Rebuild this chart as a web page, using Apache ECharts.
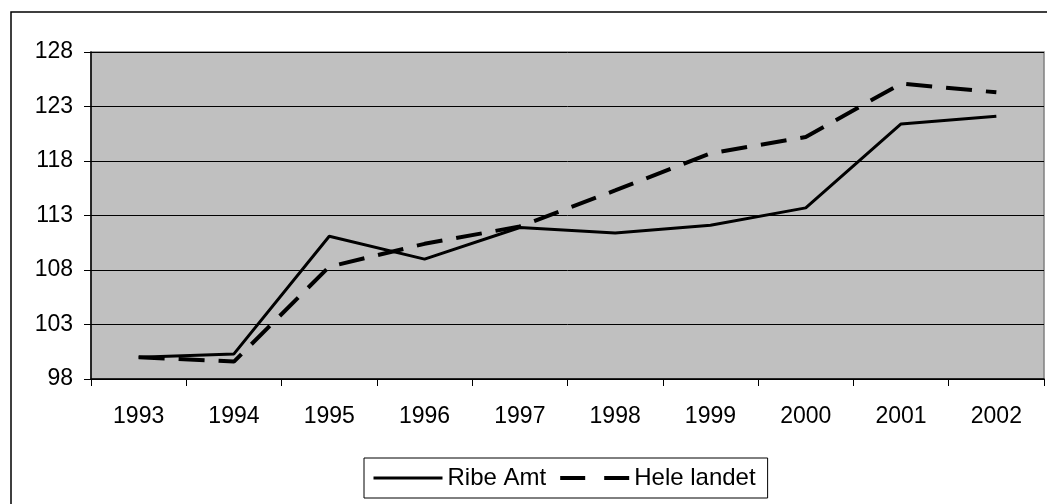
<!DOCTYPE html>
<html>
<head>
<meta charset="utf-8">
<script src="https://cdn.jsdelivr.net/npm/echarts@6/dist/echarts.min.js"></script>
<style>
  html, body { margin: 0; padding: 0; background: #fff; }
  #main { width: 1047px; height: 504px; }
</style>
</head>
<body>
<div id="main"></div>
<script type="text/javascript">
    var years = ['1993', '1994', '1995', '1996', '1997', '1998', '1999', '2000', '2001', '2002'];
    var ribeAmt = [100.0, 100.3, 111.1, 109.0, 111.9, 111.4, 112.1, 113.7, 121.4, 122.1];
    var heleLandet = [100.0, 99.6, 108.3, 110.4, 112.0, 115.3, 118.7, 120.2, 125.1, 124.3];

    var font = 'Liberation Sans, Arial, sans-serif';
    var dash = [26, 14];
    var chart = echarts.init(document.getElementById('main'));

    var option = {
        animation: false,
        backgroundColor: '#fff',
        textStyle: { fontFamily: font, color: '#000' },
        graphic: [{
            // outer chart frame
            type: 'rect',
            shape: { x: 11, y: 12, width: 1200, height: 700 },
            style: { fill: 'none', stroke: '#000', lineWidth: 1.5 },
            silent: true
        }],
        grid: {
            left: 91, right: 3, top: 52, bottom: 125,
            show: true,
            backgroundColor: '#c0c0c0',
            borderColor: '#808080',
            borderWidth: 1.5
        },
        legend: {
            left: 364, top: 458,
            padding: [8, 12, 8, 8],
            itemWidth: 69, itemHeight: 14, itemGap: 12,
            borderColor: '#000', borderWidth: 1,
            itemStyle: { opacity: 0 },
            textStyle: { fontSize: 24, color: '#000', fontFamily: font },
            data: [
                { name: 'Ribe Amt', lineStyle: { color: '#000', width: 3, type: 'solid' } },
                { name: 'Hele landet', lineStyle: { color: '#000', width: 4, type: [25, 19] } }
            ]
        },
        xAxis: {
            type: 'category',
            data: years,
            boundaryGap: true,
            axisLine: { lineStyle: { color: '#000', width: 1.5 } },
            axisTick: { show: true, length: 7, lineStyle: { color: '#000' } },
            axisLabel: { fontSize: 23, color: '#000', margin: 26, fontFamily: font }
        },
        yAxis: {
            type: 'value',
            min: 98, max: 128, interval: 5,
            axisLine: { show: true, lineStyle: { color: '#000', width: 1.5 } },
            axisTick: { show: true, length: 7, lineStyle: { color: '#000' } },
            axisLabel: { fontSize: 23, color: '#000', margin: 18, fontFamily: font },
            splitLine: { show: true, lineStyle: { color: '#000', width: 1 } }
        },
        series: [{
            name: 'Ribe Amt',
            type: 'line',
            data: ribeAmt,
            symbol: 'none',
            color: '#000',
            lineStyle: { color: '#000', width: 3 }
        }, {
            name: 'Hele landet',
            type: 'line',
            data: heleLandet,
            symbol: 'none',
            color: '#000',
            lineStyle: { color: '#000', width: 4, type: dash }
        }]
    };

    chart.setOption(option);
</script>
</body>
</html>
